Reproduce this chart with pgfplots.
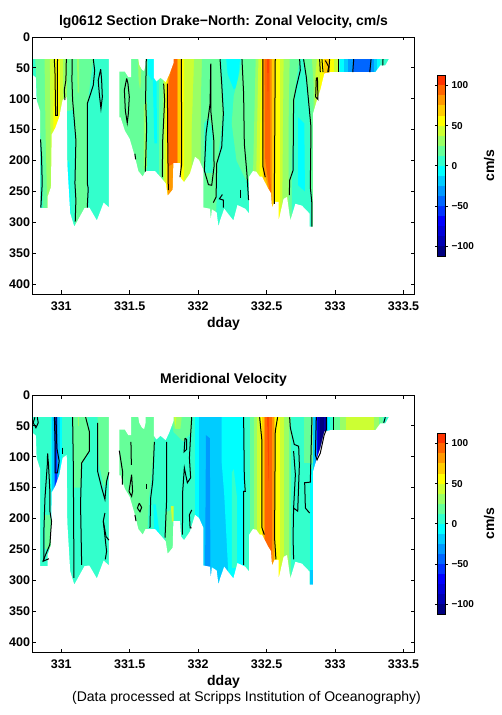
\documentclass[border=0pt]{standalone}
\usepackage{fontspec}
\setmainfont{Liberation Sans}
\usepackage{pgfplots}
\pgfplotsset{compat=1.18}
\definecolor{bA}{rgb}{0,0,.5}
\definecolor{bB}{rgb}{0,0,.7}
\definecolor{bC}{rgb}{0,0,.85}
\definecolor{bD}{rgb}{0,0,1}
\definecolor{bE}{rgb}{0,.2,1}
\definecolor{bF}{rgb}{0,.4,1}
\definecolor{bG}{rgb}{0,.6,1}
\definecolor{bH}{rgb}{0,.8,1}
\definecolor{cyn}{rgb}{0,1,1}
\definecolor{tur}{rgb}{.2,1,.8}
\definecolor{lgr}{rgb}{.4,1,.6}
\definecolor{grn}{rgb}{.6,1,.4}
\definecolor{ygr}{rgb}{.8,1,.2}
\definecolor{yel}{rgb}{1,1,0}
\definecolor{amb}{rgb}{1,.8,0}
\definecolor{ora}{rgb}{1,.6,0}
\definecolor{dor}{rgb}{1,.4,0}
\definecolor{rdd}{rgb}{1,.2,0}
\newcommand\band[2]{\addplot[draw=none,fill=#1,forget plot] coordinates {#2 (333.6,330) (333.6,36)} --cycle;}
\newcommand\vb[2]{\addplot[draw=none,fill=#1,forget plot] coordinates {(#2,36) (#2,330) (333.6,330) (333.6,36)} --cycle;}
\newcommand\pg[2]{\addplot[draw=none,fill=#1,forget plot] coordinates {#2} --cycle;}
\newcommand\ct[1]{\addplot[black,line width=1pt,forget plot] coordinates {#1};}
\newcommand\mask{%
\pg{white}{(330.78,62)(330.795,62)(330.815,66)(330.82,102)(330.84,116)(330.846,120)(330.846,277)(330.90,277)(330.90,259)(330.925,243)(330.93,158)(330.955,148)(330.985,130)(331.01,102)(331.04,97)(331.044,205)(331.065,285)(331.095,307)(331.17,277)(331.205,276)(331.26,297)(331.31,268)(331.348,276)(331.348,36)(331.424,36)(331.424,130)(331.433,130)(331.465,152)(331.50,165)(331.538,194)(331.563,217)(331.595,226)(331.616,217)(331.685,217)(331.733,229)(331.763,237)(331.777,257)(331.80,251)(331.814,247)(331.819,204)(331.867,204)(331.875,229)(331.897,235)(331.94,221)(331.977,194)(332.006,199)(332.038,215)(332.038,276)(332.062,277)(332.087,278)(332.092,297)(332.10,279)(332.135,284)(332.148,307)(332.16,297)(332.19,278)(332.257,297)(332.287,272)(332.344,278)(332.373,286)(332.373,226)(332.40,217)(332.424,218)(332.449,226)(332.466,226)(332.51,245)(332.532,253)(332.539,276)(332.558,267)(332.588,267)(332.588,297)(332.624,262)(332.649,259)(332.673,297)(332.71,270)(332.758,273)(332.814,286)(332.814,307)(332.839,307)(332.839,124)(332.868,102)(332.892,86)(332.922,59)(332.965,57)(333.294,57)(333.331,46)(333.367,46)(333.392,36)(333.6,36)(333.6,420)(330.78,420)}
\pg{white}{(331.42,36)(331.42,56)(331.465,56)(331.49,65)(331.51,65)(331.51,36)}
\pg{white}{(331.563,36)(331.57,45)(331.59,53)(331.605,55)(331.616,45)(331.616,36)}
\pg{white}{(331.677,36)(331.677,66)(331.695,72)(331.725,66)(331.763,73)(331.79,60)(331.82,42)(331.82,36)}
}
\newcommand\cbar{%
\pg{bA}{(0,-112.5)(1,-112.5)(1,-100)(0,-100)}
\pg{bB}{(0,-100)(1,-100)(1,-87.5)(0,-87.5)}
\pg{bC}{(0,-87.5)(1,-87.5)(1,-75)(0,-75)}
\pg{bD}{(0,-75)(1,-75)(1,-62.5)(0,-62.5)}
\pg{bE}{(0,-62.5)(1,-62.5)(1,-50)(0,-50)}
\pg{bF}{(0,-50)(1,-50)(1,-37.5)(0,-37.5)}
\pg{bG}{(0,-37.5)(1,-37.5)(1,-25)(0,-25)}
\pg{bH}{(0,-25)(1,-25)(1,-12.5)(0,-12.5)}
\pg{cyn}{(0,-12.5)(1,-12.5)(1,0)(0,0)}
\pg{tur}{(0,0)(1,0)(1,12.5)(0,12.5)}
\pg{lgr}{(0,12.5)(1,12.5)(1,25)(0,25)}
\pg{grn}{(0,25)(1,25)(1,37.5)(0,37.5)}
\pg{ygr}{(0,37.5)(1,37.5)(1,50)(0,50)}
\pg{yel}{(0,50)(1,50)(1,62.5)(0,62.5)}
\pg{amb}{(0,62.5)(1,62.5)(1,75)(0,75)}
\pg{ora}{(0,75)(1,75)(1,87.5)(0,87.5)}
\pg{dor}{(0,87.5)(1,87.5)(1,100)(0,100)}
\pg{rdd}{(0,100)(1,100)(1,112.5)(0,112.5)}
}
\pgfplotsset{
 sec/.style={scale only axis,width=382pt,height=257pt,anchor=south west,
  xmin=330.79,xmax=333.58,ymin=0,ymax=416,y dir=reverse,axis on top,
  xtick={331,331.5,332,332.5,333,333.5},xticklabels={331,331.5,332,332.5,333,333.5},
  ytick={0,50,100,150,200,250,300,350,400},
  tick align=inside,major tick length=3.5pt,
  axis line style={line width=.9pt},every tick/.style={black,line width=.8pt},
  tick label style={font=\fontsize{12.5}{14}\bfseries,/pgf/number format/assume math mode=true},
  yticklabel style={xshift=1pt},
  xticklabel style={yshift=-4pt},
  xlabel={dday},xlabel style={font=\fontsize{14}{16}\bfseries,yshift=0pt},
  title style={font=\fontsize{14}{16}\bfseries,yshift=-1pt},
 },
 cb/.style={scale only axis,width=8pt,height=181pt,anchor=south west,
  xmin=0,xmax=1,ymin=-112.5,ymax=112.5,axis on top,xtick=\empty,
  ytick={-100,-50,0,50,100},yticklabels={−100,−50,0,50,100},yticklabel pos=right,
  tick align=outside,major tick length=2.5pt,
  axis line style={line width=.9pt},every tick/.style={black,line width=.7pt},
  tick label style={font=\fontsize{10}{12}\bfseries},
  ylabel={cm/s},ylabel near ticks,
  ylabel style={font=\fontsize{14}{16}\bfseries,yshift=-3pt},
 },
}
\begin{document}
\begin{tikzpicture}[x=1pt,y=1pt]
\path[use as bounding box] (0,0) rectangle (502,715);
% ---------- zonal ----------
\begin{axis}[sec,at={(32.5pt,421pt)},title={lg0612 Section Drake−North: Zonal Velocity, cm/s}]
\vb{tur}{330.79}
\band{lgr}{(330.81,36)(330.825,100)(330.864,200)(330.868,330)}
\band{grn}{(330.878,36)(330.885,150)(330.90,300)(330.90,330)}
\band{ygr}{(330.917,36)(330.922,160)(330.922,330)}
\band{yel}{(330.949,36)(330.942,130)(330.942,330)}
\vb{ygr}{330.99}
\vb{grn}{331.015}
\vb{lgr}{331.039}
\pg{grn}{(331.115,36)(331.13,36)(331.13,90)(331.12,90)}
\pg{tur}{(331.039,120)(331.09,118)(331.105,180)(331.10,330)(331.039,330)}
\pg{cyn}{(331.049,200)(331.06,205)(331.07,300)(331.05,300)}
\band{tur}{(331.234,36)(331.197,100)(331.19,200)(331.19,330)}
\vb{lgr}{331.42}
\pg{grn}{(331.56,36)(331.585,36)(331.58,80)(331.575,85)(331.565,70)}
\pg{grn}{(331.604,110)(331.625,105)(331.625,210)(331.604,215)}
\vb{tur}{331.624}
\pg{cyn}{(331.634,36)(331.677,36)(331.677,66)(331.66,70)(331.634,60)}
\pg{cyn}{(331.668,60)(331.695,60)(331.70,172)(331.68,172)}
\vb{lgr}{331.716}
\vb{grn}{331.741}
\vb{ygr}{331.753}
\vb{yel}{331.763}
\vb{amb}{331.77}
\vb{ora}{331.777}
\band{dor}{(331.82,36)(331.80,55)(331.785,75)(331.78,130)(331.785,220)(331.785,330)}
\pg{ora}{(331.78,210)(331.82,205)(331.82,260)(331.78,260)}
\vb{ora}{331.843}
\vb{amb}{331.855}
\vb{yel}{331.872}
\vb{ygr}{331.897}
\band{grn}{(331.97,36)(331.953,150)(331.953,330)}
\band{lgr}{(332.028,36)(332.02,100)(332.02,330)}
\pg{tur}{(332.043,140)(332.075,130)(332.105,150)(332.105,220)(332.043,220)}
\band{tur}{(332.16,36)(332.184,120)(332.148,190)(332.123,330)}
\pg{cyn}{(332.205,36)(332.305,36)(332.30,50)(332.285,80)(332.26,85)(332.215,60)}
\band{lgr}{(332.32,36)(332.30,60)(332.26,95)(332.245,140)(332.28,200)(332.345,230)(332.375,235)(332.375,330)}
\band{grn}{(332.42,36)(332.40,230)(332.40,330)}
\band{ygr}{(332.44,36)(332.424,225)(332.424,330)}
\band{yel}{(332.459,36)(332.449,220)(332.449,330)}
\band{amb}{(332.466,36)(332.473,220)(332.473,330)}
\band{ora}{(332.473,36)(332.478,210)(332.51,245)(332.51,330)}
\band{dor}{(332.485,36)(332.49,200)(332.522,250)(332.522,330)}
\pg{rdd}{(332.505,36)(332.515,36)(332.51,118)}
\band{ora}{(332.527,36)(332.527,220)(332.534,260)(332.534,330)}
\vb{amb}{332.539}
\vb{yel}{332.563}
\vb{ygr}{332.595}
\band{grn}{(332.624,36)(332.612,330)}
\band{lgr}{(332.668,36)(332.66,150)(332.66,330)}
\band{tur}{(332.741,36)(332.71,80)(332.685,200)(332.685,330)}
\pg{cyn}{(332.73,130)(332.775,140)(332.78,250)(332.73,240)}
\band{lgr}{(332.77,36)(332.80,80)(332.814,130)(332.831,300)(332.831,330)}
\band{grn}{(332.831,36)(332.844,80)(332.844,330)}
\band{ygr}{(332.868,36)(332.856,60)(332.856,330)}
\vb{yel}{332.892}
\vb{amb}{332.92}
\vb{yel}{332.965}
\vb{ygr}{332.99}
\vb{grn}{333.019}
\vb{lgr}{333.024}
\vb{tur}{333.031}
\vb{cyn}{333.038}
\vb{bH}{333.068}
\vb{bG}{333.092}
\vb{bF}{333.131}
\vb{bG}{333.263}
\vb{bH}{333.287}
\vb{cyn}{333.307}
\vb{tur}{333.331}
\mask
\ct{(330.849,165.6)(330.856,194)(330.861,237)(330.851,276)}
\ct{(330.949,36)(330.954,54)(330.959,127)(330.971,127)(330.971,48.5)(330.973,36)}
\ct{(331.037,36)(331.034,70)(331.022,86)(331.027,102)}
\ct{(331.080,36)(331.078,70)(331.083,102)(331.093,129)(331.107,167)(331.10,237)(331.107,264)(331.102,299)}
\ct{(331.234,36)(331.244,54)(331.234,78)(331.214,92)(331.19,108)(331.19,237)(331.197,245)(331.19,276)}
\ct{(331.288,52)(331.27,70)(331.278,92)(331.29,116)(331.30,97)(331.295,70)(331.288,52)}
\ct{(331.478,67)(331.461,86)(331.468,119)(331.482,139)(331.49,124)(331.497,97)(331.487,75)(331.478,67)}
\ct{(331.538,189)(331.543,198)}
\ct{(331.621,36)(331.616,102)(331.624,146)(331.614,218)}
\ct{(331.748,75.5)(331.755,102)(331.741,167)(331.738,227)}
\ct{(331.775,75.5)(331.777,156)(331.782,248)}
\ct{(331.877,36)(331.88,205)(331.867,227)}
\ct{(332.092,43)(332.087,108)(332.058,156)(332.045,216)(332.075,239)(332.099,240)(332.116,210)(332.114,167)(332.092,119)(332.092,43)}
\ct{(332.16,36)(332.172,75.5)(332.184,124)(332.172,178)(332.135,205)(332.131,259)(332.111,268)}
\ct{(332.177,255)(332.155,262)(332.184,264)(332.184,276)}
\ct{(332.32,36)(332.332,92)(332.337,172.6)(332.356,221)(332.368,264)}
\ct{(332.312,247)(332.312,260)}
\ct{(332.473,36)(332.473,210)(332.49,227)}
\ct{(332.563,36)(332.556,270)}
\ct{(332.741,36)(332.746,54)(332.717,81)(332.697,102)(332.693,216)(332.668,232)(332.666,256)}
\ct{(332.77,36)(332.79,65)(332.824,146)(332.819,243)(332.831,270)(332.831,307)}
\ct{(332.887,36)(332.892,57)}
\ct{(332.863,66)(332.858,97)(332.875,101)(332.871,66)(332.863,66)}
\ct{(332.904,36)(332.912,57)}
\ct{(332.929,38)(332.953,48)(332.946,57)}
\ct{(332.96,36)(332.953,57)}
\ct{(333.026,36)(333.026,57)}
\ct{(333.136,36)(333.129,57)}
\ct{(333.263,36)(333.253,57)}
\ct{(333.35,36)(333.348,46)}
\end{axis}
% ---------- meridional ----------
\begin{axis}[sec,at={(32.5pt,63pt)},title={Meridional Velocity}]
\vb{tur}{330.79}
\pg{lgr}{(330.88,194)(330.93,194)(330.93,250)(330.88,250)}
\vb{cyn}{330.928}
\vb{bH}{330.936}
\vb{bG}{330.947}
\vb{bE}{330.956}
\vb{bG}{330.969}
\vb{bH}{330.976}
\vb{cyn}{330.99}
\vb{tur}{331.005}
\pg{lgr}{(331.083,36)(331.19,36)(331.21,60)(331.21,90)(331.15,112)(331.14,150)(331.09,150)}
\pg{grn}{(331.12,36)(331.13,36)(331.13,50)(331.12,50)}
\pg{lgr}{(331.266,36)(331.348,36)(331.348,125)(331.31,150)(331.275,110)}
\vb{lgr}{331.42}
\band{tur}{(331.685,36)(331.68,80)(331.66,130)(331.64,170)(331.63,220)(331.63,330)}
\pg{cyn}{(331.673,177)(331.69,177)(331.72,227)(331.68,227)}
\pg{lgr}{(331.76,190)(331.815,185)(331.815,260)(331.76,260)}
\pg{ygr}{(331.80,180)(331.82,180)(331.82,205)(331.81,205)}
\pg{lgr}{(331.80,36)(331.953,36)(331.953,60)(331.89,75)(331.82,60)}
\pg{grn}{(331.82,36)(331.88,36)(331.87,55)(331.83,55)}
\pg{ygr}{(331.825,36)(331.84,36)(331.835,52)}
\vb{cyn}{331.977}
\vb{bH}{332.006}
\pg{bG}{(332.057,65)(332.085,70)(332.09,300)(332.05,300)}
\vb{bH}{332.135}
\band{cyn}{(332.172,36)(332.172,110)(332.19,160)(332.23,330)}
\pg{tur}{(332.247,125)(332.26,120)(332.283,165)(332.283,280)(332.247,280)}
\vb{tur}{332.332}
\vb{lgr}{332.381}
\vb{grn}{332.405}
\vb{ygr}{332.43}
\vb{yel}{332.454}
\vb{amb}{332.466}
\vb{ora}{332.478}
\vb{dor}{332.49}
\pg{rdd}{(332.505,36)(332.52,36)(332.515,150)}
\band{dor}{(332.515,36)(332.515,150)(332.515,330)}
\vb{ora}{332.539}
\vb{amb}{332.551}
\vb{yel}{332.563}
\vb{ygr}{332.595}
\vb{grn}{332.624}
\vb{lgr}{332.661}
\vb{tur}{332.678}
\pg{lgr}{(332.77,36)(332.84,36)(332.84,110)(332.77,110)}
\vb{bH}{332.839}
\pg{cyn}{(332.814,120)(332.839,120)(332.839,283)(332.814,283)}
\pg{bH}{(332.814,283)(332.839,283)(332.839,307)(332.814,307)}
\vb{bG}{332.856}
\vb{bD}{332.868}
\vb{bB}{332.873}
\vb{bA}{332.892}
\vb{bB}{332.922}
\vb{bH}{332.936}
\vb{cyn}{332.946}
\vb{tur}{332.96}
\vb{lgr}{332.985}
\vb{grn}{333.038}
\vb{ygr}{333.082}
\vb{grn}{333.287}
\vb{lgr}{333.319}
\vb{tur}{333.35}
\mask
\ct{(330.808,36)(330.795,45)(330.815,53)(330.832,45)(330.825,36)}
\ct{(330.95,36)(330.955,80)(330.955,126)(330.972,126)(330.985,107)(330.968,86)(330.962,36)}
\ct{(331.01,85)(331.01,95)}
\ct{(330.90,95)(330.907,113)(330.917,156)(330.917,188)(330.929,204)(330.917,242)(330.881,261)(330.868,269)(330.91,265)}
\ct{(330.90,95)(330.898,113)(330.881,167)(330.873,221)(330.873,266)(330.868,269)}
\ct{(331.083,36)(331.088,113)(331.093,296)}
\ct{(331.178,36)(331.205,59)(331.205,91)(331.149,110)(331.141,177)(331.149,275)}
\ct{(331.266,45)(331.266,124)(331.295,150)(331.319,169)(331.331,140)(331.348,125)}
\ct{(331.319,191)(331.307,204)(331.327,229)(331.348,235)}
\ct{(331.307,204)(331.331,253)(331.322,266)}
\ct{(331.424,90)(331.448,124)(331.446,145)}
\ct{(331.509,76)(331.512,113)}
\ct{(331.514,129)(331.495,156)(331.514,164)(331.521,156)(331.514,129)}
\ct{(331.57,175)(331.587,182)(331.575,189)(331.556,183)(331.57,175)}
\ct{(331.538,194)(331.546,204)}
\ct{(331.624,144)(331.624,152)}
\ct{(331.68,76)(331.668,140)(331.653,167)(331.648,215)}
\ct{(331.77,76)(331.77,167)(331.758,231)}
\ct{(331.953,36)(331.945,64)(331.936,102)(331.945,134)(331.921,142)(331.899,118)(331.887,156)(331.885,226)}
\ct{(331.904,70)(331.897,92)(331.916,88)(331.916,72)(331.904,70)}
\ct{(331.953,186)(331.936,194)(331.941,215)(331.953,215)}
\ct{(332.332,36)(332.337,134)(332.344,156)(332.332,156)(332.332,275)}
\ct{(332.449,36)(332.466,75)(332.466,215)(332.483,226)}
\ct{(332.58,36)(332.563,59)(332.558,231)(332.568,266)}
\ct{(332.668,36)(332.673,53)(332.702,80)(332.734,83)(332.739,113)(332.727,188)(332.697,183)(332.693,231)(332.697,266)}
\ct{(332.697,91)(332.71,129)(332.697,183)}
\ct{(332.831,36)(332.819,141)(332.778,142)(332.783,183)(332.814,191)}
\ct{(332.863,36)(332.856,97)(332.868,105)(332.892,94)(332.92,65)(332.936,56)(332.936,36)}
\ct{(332.985,36)(332.985,56)}
\ct{(333.367,36)(333.355,45)}
\end{axis}
% ---------- colour bars ----------
\begin{axis}[cb,at={(437.5pt,458.7pt)}]
\cbar
\end{axis}
\begin{axis}[cb,at={(437.5pt,100.7pt)}]
\cbar
\end{axis}
\node[font=\fontsize{14}{16}\selectfont] at (246.5,17) {(Data processed at Scripps Institution of Oceanography)};
\end{tikzpicture}
\end{document}
